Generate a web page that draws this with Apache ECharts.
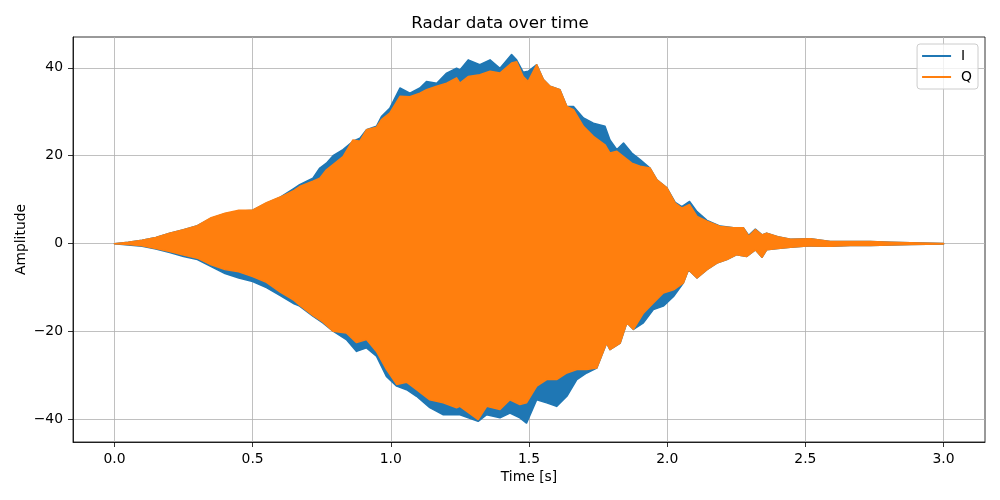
<!DOCTYPE html>
<html>
<head>
<meta charset="utf-8">
<title>Radar data over time</title>
<script src="https://cdn.jsdelivr.net/npm/echarts@6/dist/echarts.min.js"></script>
<style>
  html, body { margin: 0; padding: 0; background: #fff; }
  #chart { width: 1000px; height: 500px; }
</style>
</head>
<body>
<div id="chart"></div>
<script>
// envelope of the I / Q traces (time in s)
const upperTime = [
  0.000, 0.050, 0.100, 0.150, 0.200, 0.250, 0.300, 0.350, 0.400, 0.450,
  0.500, 0.550, 0.600, 0.650, 0.670, 0.718, 0.743, 0.767, 0.791, 0.827,
  0.863, 0.888, 0.912, 0.948, 0.966, 0.996, 1.033, 1.069, 1.105, 1.129,
  1.166, 1.202, 1.238, 1.250, 1.280, 1.322, 1.359, 1.395, 1.437, 1.455,
  1.479, 1.497, 1.528, 1.552, 1.576, 1.612, 1.637, 1.661, 1.697, 1.733,
  1.775, 1.793, 1.818, 1.842, 1.872, 1.902, 1.938, 1.963, 1.999, 2.029,
  2.053, 2.081, 2.108, 2.144, 2.192, 2.240, 2.276, 2.295, 2.319, 2.343,
  2.360, 2.400, 2.446, 2.518, 2.590, 2.663, 2.736, 2.808, 2.880, 3.000
];
const iUpper = [
  0.0, 0.3, 0.8, 1.4, 2.4, 3.2, 4.1, 5.8, 6.8, 7.4,
  7.6, 9.2, 10.6, 12.6, 13.4, 14.9, 17.2, 18.3, 20.0, 21.4,
  23.3, 24.0, 25.9, 26.7, 28.9, 30.8, 35.4, 34.2, 35.4, 36.9,
  36.5, 38.8, 39.9, 39.5, 41.8, 40.7, 41.8, 39.9, 43.0, 41.8,
  39.0, 39.2, 40.7, 37.3, 35.8, 35.0, 31.2, 31.2, 28.6, 27.4,
  26.7, 23.6, 21.4, 22.9, 20.6, 19.1, 17.2, 14.5, 12.7, 9.4,
  8.4, 9.6, 7.3, 5.3, 4.0, 3.6, 3.6, 1.9, 3.3, 2.0,
  2.4, 1.6, 1.0, 1.1, 0.5, 0.5, 0.5, 0.3, 0.2, 0.05
];
const qUpper = [
  0.0, 0.3, 0.8, 1.4, 2.4, 3.2, 4.1, 5.9, 6.9, 7.6,
  7.6, 9.3, 10.6, 12.1, 13.0, 14.2, 14.9, 16.8, 18.0, 19.8,
  23.6, 23.3, 25.9, 26.5, 28.2, 29.7, 33.5, 33.4, 34.2, 35.0,
  35.8, 36.5, 37.7, 36.5, 38.0, 38.4, 39.2, 38.8, 41.1, 41.4,
  38.0, 36.9, 40.7, 37.3, 35.8, 35.0, 31.2, 30.5, 26.7, 24.4,
  22.5, 20.6, 21.0, 19.8, 18.3, 17.6, 17.2, 14.5, 12.7, 9.2,
  8.1, 8.9, 6.2, 5.1, 3.9, 3.6, 3.6, 1.7, 3.2, 2.0,
  2.4, 1.6, 1.0, 1.1, 0.5, 0.5, 0.5, 0.3, 0.2, 0.05
];
const lowerTime = [
  0.000, 0.050, 0.100, 0.150, 0.200, 0.250, 0.300, 0.350, 0.400, 0.450,
  0.500, 0.550, 0.600, 0.650, 0.670, 0.718, 0.754, 0.791, 0.839, 0.876,
  0.912, 0.948, 0.984, 1.021, 1.057, 1.093, 1.141, 1.190, 1.238, 1.250,
  1.316, 1.347, 1.395, 1.431, 1.467, 1.491, 1.528, 1.564, 1.600, 1.637,
  1.673, 1.709, 1.745, 1.781, 1.793, 1.830, 1.854, 1.878, 1.914, 1.950,
  1.986, 2.023, 2.059, 2.077, 2.108, 2.144, 2.180, 2.216, 2.252, 2.288,
  2.319, 2.343, 2.360, 2.400, 2.446, 2.518, 2.590, 2.663, 2.736, 2.808,
  2.880, 3.000
];
const iLower = [
  0.0, -0.3, -0.6, -1.2, -2.0, -2.9, -3.6, -5.2, -6.8, -7.8,
  -8.6, -10.0, -11.8, -13.7, -14.2, -16.5, -18.0, -19.9, -21.8, -24.5,
  -23.7, -25.6, -30.2, -32.4, -33.2, -34.7, -37.3, -38.9, -38.9, -38.9,
  -40.4, -38.9, -39.6, -38.5, -39.6, -40.8, -35.5, -36.2, -37.0, -34.7,
  -30.9, -29.4, -28.3, -22.6, -24.1, -22.6, -18.0, -19.5, -18.0, -15.0,
  -14.2, -12.0, -8.9, -5.9, -7.8, -5.9, -4.4, -3.6, -2.5, -2.9,
  -1.4, -3.1, -1.4, -1.1, -0.8, -0.5, -0.6, -0.4, -0.4, -0.3,
  -0.2, -0.05
];
const qLower = [
  0.0, -0.2, -0.5, -1.1, -1.8, -2.6, -3.3, -4.8, -5.9, -6.4,
  -7.5, -8.8, -11.0, -12.9, -14.0, -16.3, -17.8, -19.9, -20.3, -22.5,
  -21.8, -24.5, -28.6, -32.0, -31.5, -33.2, -35.5, -36.2, -37.3, -37.0,
  -40.0, -37.0, -37.7, -35.5, -36.6, -36.2, -32.4, -30.9, -30.9, -29.4,
  -28.6, -28.6, -28.3, -22.6, -24.1, -22.6, -18.0, -19.5, -15.8, -13.5,
  -11.2, -10.5, -8.9, -5.9, -7.8, -5.9, -4.4, -3.6, -2.5, -2.9,
  -1.4, -3.1, -1.4, -1.1, -0.8, -0.5, -0.6, -0.4, -0.4, -0.3,
  -0.2, -0.05
];

const xTicks = [0, 0.5, 1, 1.5, 2, 2.5, 3];
const yTicks = [-40, -20, 0, 20, 40];

const FONT = "'DejaVu Sans', sans-serif";
const minus = (s) => String(s).replace('-', '\u2212');

// closed outline: top edge left to right, then bottom edge back
const outline = (upper, lower) => {
  const pts = upperTime.map((t, k) => [t, upper[k]]);
  for (let k = lowerTime.length - 1; k >= 0; k--) pts.push([lowerTime[k], lower[k]]);
  return pts;
};

const band = (name, color, data) => ({
  name,
  type: 'custom',
  silent: true,
  itemStyle: { color },
  encode: { x: 0, y: 1 },
  data,
  renderItem: (params, api) => {
    if (params.dataIndex !== 0) return null;
    return {
      type: 'polygon',
      shape: { points: data.map((p) => api.coord(p)) },
      style: { fill: color, stroke: color, lineWidth: 1.5, lineJoin: 'round' },
    };
  },
});

const chart = echarts.init(document.getElementById('chart'));

const axisCommon = {
  type: 'value',
  nameMoveOverlap: false,
  axisLine: { show: true, onZero: false, lineStyle: { color: '#000', width: 0.8 } },
  axisTick: { show: true, length: 5, lineStyle: { color: '#000', width: 0.8 } },
  splitLine: { show: true, lineStyle: { color: '#b0b0b0', width: 0.8 } },
  nameTextStyle: { color: '#000', fontFamily: FONT, fontSize: 13.9 },
};

const option = {
  animation: false,
  textStyle: { fontFamily: FONT },
  title: {
    text: 'Radar data over time',
    left: 'center',
    top: 10,
    padding: [5, 0, 5, 58],
    textStyle: { fontFamily: FONT, fontSize: 16.7, fontWeight: 'normal', color: '#000' },
  },
  legend: {
    orient: 'vertical',
    right: 22,
    top: 44,
    padding: [4, 6, 4, 5],
    itemGap: 5,
    itemWidth: 29,
    itemHeight: 2,
    borderColor: '#cccccc',
    borderWidth: 1,
    borderRadius: 3,
    backgroundColor: 'rgba(255,255,255,0.8)',
    textStyle: { fontFamily: FONT, fontSize: 13.9, color: '#000', lineHeight: 16, padding: [0, 0, 0, 5] },
    data: [
      { name: 'I', icon: 'rect' },
      { name: 'Q', icon: 'rect' },
    ],
  },
  grid: {
    left: 73,
    right: 15,
    top: 37,
    bottom: 58,
    show: true,
    borderColor: '#000',
    borderWidth: 0.8,
  },
  xAxis: {
    ...axisCommon,
    min: -0.15,
    max: 3.15,
    name: 'Time [s]',
    nameLocation: 'middle',
    nameGap: 28,
    axisTick: { ...axisCommon.axisTick, customValues: xTicks },
    axisLabel: {
      customValues: xTicks,
      margin: 10,
      color: '#000',
      fontFamily: FONT,
      fontSize: 13.9,
      formatter: (v) => v.toFixed(1),
    },
  },
  yAxis: {
    ...axisCommon,
    min: -45.1,
    max: 47.0,
    name: 'Amplitude',
    nameLocation: 'middle',
    nameGap: 45,
    axisTick: { ...axisCommon.axisTick, customValues: yTicks },
    axisLabel: {
      customValues: yTicks,
      margin: 10,
      color: '#000',
      fontFamily: FONT,
      fontSize: 13.9,
      formatter: (v) => minus(v),
    },
  },
  series: [
    band('I', '#1f77b4', outline(iUpper, iLower)),
    band('Q', '#ff7f0e', outline(qUpper, qLower)),
  ],
};

chart.setOption(option);
</script>
</body>
</html>
